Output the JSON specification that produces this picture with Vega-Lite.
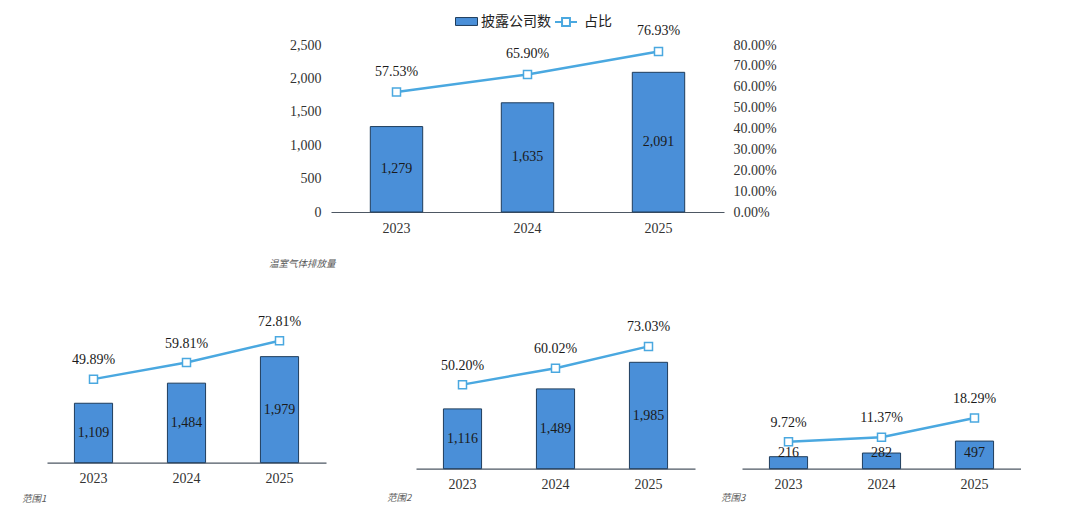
{
  "$schema": "https://vega.github.io/schema/vega-lite/v6.json",
  "background": "white",
  "padding": {"left": 22, "top": 10, "right": 0, "bottom": 0},
  "config": {
    "view": {"stroke": null},
    "axis": {"labelFont": "Liberation Serif", "labelFontSize": 14, "labelColor": "#333333", "ticks": false, "grid": false, "domain": false, "title": null},
    "text": {"font": "Liberation Serif", "fontSize": 14, "fill": "#1a1a1a"},
    "title": {"font": "Noto Sans CJK SC", "fontSize": 9.5, "fontStyle": "italic", "fontWeight": "normal", "color": "#595959", "frame": "group"},
    "legend": {"labelFont": "Noto Sans CJK SC", "labelFontSize": 14, "labelColor": "#222222", "padding": 0}
  },
  "datasets": {
    "top": [
      {"year": "2023", "count": 1279, "pct": 0.5753},
      {"year": "2024", "count": 1635, "pct": 0.6590},
      {"year": "2025", "count": 2091, "pct": 0.7693}
    ],
    "s1": [
      {"year": "2023", "count": 1109, "pct": 0.4989},
      {"year": "2024", "count": 1484, "pct": 0.5981},
      {"year": "2025", "count": 1979, "pct": 0.7281}
    ],
    "s2": [
      {"year": "2023", "count": 1116, "pct": 0.5020},
      {"year": "2024", "count": 1489, "pct": 0.6002},
      {"year": "2025", "count": 1985, "pct": 0.7303}
    ],
    "s3": [
      {"year": "2023", "count": 216, "pct": 0.0972},
      {"year": "2024", "count": 282, "pct": 0.1137},
      {"year": "2025", "count": 497, "pct": 0.1829}
    ]
  },
  "bounds": "flush",
  "spacing": 283.7,
  "resolve": {"scale": {"fill": "independent", "stroke": "independent"}, "legend": {"fill": "independent", "stroke": "independent"}},
  "vconcat": [
    {
      "bounds": "flush",
      "spacing": 0,
      "resolve": {"scale": {"fill": "independent", "stroke": "independent"}, "legend": {"fill": "independent", "stroke": "independent"}},
      "hconcat": [
        {
          "width": 284,
          "height": 1,
          "data": {"values": [{"a": 1}]},
          "mark": {"type": "text", "text": ""},
          "encoding": {}
        },
        {
          "width": 393,
          "height": 167,
          "data": {"name": "top"},
          "title": {"text": "温室气体排放量", "orient": "bottom", "anchor": "start", "dx": -62, "offset": 23.5},
          "encoding": {
            "x": {"field": "year", "type": "ordinal", "scale": {"paddingInner": 0.6, "paddingOuter": 0.3},
                  "axis": {"domain": true, "domainColor": "#4d5763", "domainWidth": 1.2, "labelPadding": 9, "labelAngle": 0}}
          },
          "layer": [
            {
              "mark": {"type": "bar", "stroke": "#1f3d5c", "strokeWidth": 1},
              "encoding": {
                "y": {"field": "count", "type": "quantitative", "scale": {"domain": [0, 2500], "nice": false},
                      "axis": {"values": [0, 500, 1000, 1500, 2000, 2500], "format": ",.0f", "labelPadding": 10}},
                "fill": {"datum": "披露公司数", "type": "nominal",
                  "scale": {"domain": ["披露公司数"], "range": ["#4a8fd8"]},
                  "legend": {
                    "orient": "none", "legendX": 124, "legendY": -35, "title": null,
                    "symbolType": "M-1,-0.36H1V0.36H-1Z", "symbolSize": 484,
                    "symbolStrokeColor": "#1f3d5c", "symbolStrokeWidth": 1, "symbolOpacity": 1,
                    "labelOffset": 3
                  }
                }
              }
            },
            {
              "mark": {"type": "text"},
              "encoding": {
                "y": {"field": "count", "type": "quantitative", "scale": {"domain": [0, 5000], "nice": false}, "axis": null},
                "text": {"field": "count", "type": "quantitative", "format": ","}
              }
            },
            {
              "encoding": {
                "y": {"field": "pct", "type": "quantitative", "scale": {"domain": [0, 0.8], "nice": false},
                      "axis": {"orient": "right", "values": [0, 0.1, 0.2, 0.3, 0.4, 0.5, 0.6, 0.7, 0.8], "format": ".2%", "labelPadding": 9}}
              },
              "layer": [
                {"mark": {"type": "line", "strokeWidth": 2.5},
                 "encoding": {"stroke": {"datum": "占比", "type": "nominal",
                   "scale": {"domain": ["占比"], "range": ["#4aa8e0"]},
                   "legend": {
                     "orient": "none", "legendX": 223, "legendY": -35, "title": null,
                     "symbolType": "M-1,0H-0.36M0.36,0H1M-0.36,-0.36H0.36V0.36H-0.36Z", "symbolSize": 484,
                     "symbolFillColor": "#ffffff", "symbolStrokeWidth": 2, "symbolOpacity": 1,
                     "labelOffset": 6
                   }}}},
                {"mark": {"type": "point", "shape": "square", "size": 64, "filled": true, "fill": "#ffffff", "stroke": "#4aa8e0", "strokeWidth": 1.5, "opacity": 1}},
                {"mark": {"type": "text", "dy": -20}, "encoding": {"text": {"field": "pct", "type": "quantitative", "format": ".2%"}}}
              ]
            }
          ],
          "resolve": {"scale": {"y": "independent"}}
        }
      ]
    },
    {
      "bounds": "flush",
      "spacing": 90,
      "hconcat": [
        {
          "width": 279,
          "height": 134,
          "data": {"name": "s1"},
          "title": {"text": "范围1", "orient": "bottom", "anchor": "start", "dx": -25, "offset": 8.5},
          "encoding": {
            "x": {"field": "year", "type": "ordinal", "scale": {"paddingInner": 0.59, "paddingOuter": 0.295},
                  "axis": {"domain": true, "domainColor": "#4d5763", "domainWidth": 1.2, "labelPadding": 9, "labelAngle": 0}}
          },
          "layer": [
            {"mark": {"type": "bar", "fill": "#4a8fd8", "stroke": "#1f3d5c", "strokeWidth": 1},
             "encoding": {"y": {"field": "count", "type": "quantitative", "scale": {"domain": [0, 2500], "nice": false}, "axis": null}}},
            {"mark": {"type": "text"},
             "encoding": {"y": {"field": "count", "type": "quantitative", "scale": {"domain": [0, 5000], "nice": false}, "axis": null},
                          "text": {"field": "count", "type": "quantitative", "format": ","}}},
            {"encoding": {"y": {"field": "pct", "type": "quantitative", "scale": {"domain": [0, 0.8], "nice": false}, "axis": null}},
             "layer": [
               {"mark": {"type": "line", "stroke": "#4aa8e0", "strokeWidth": 2.5}},
               {"mark": {"type": "point", "shape": "square", "size": 64, "filled": true, "fill": "#ffffff", "stroke": "#4aa8e0", "strokeWidth": 1.5, "opacity": 1}},
               {"mark": {"type": "text", "dy": -19}, "encoding": {"text": {"field": "pct", "type": "quantitative", "format": ".2%"}}}
             ]}
          ],
          "resolve": {"scale": {"y": "independent"}}
        },
        {
          "bounds": "flush",
          "spacing": 47,
          "hconcat": [
            {
              "width": 279,
              "height": 140,
              "data": {"name": "s2"},
              "title": {"text": "范围2", "orient": "bottom", "anchor": "start", "dx": -29, "offset": 1.5},
              "encoding": {
                "x": {"field": "year", "type": "ordinal", "scale": {"paddingInner": 0.59, "paddingOuter": 0.295},
                      "axis": {"domain": true, "domainColor": "#4d5763", "domainWidth": 1.2, "labelPadding": 9, "labelAngle": 0}}
              },
              "layer": [
                {"mark": {"type": "bar", "fill": "#4a8fd8", "stroke": "#1f3d5c", "strokeWidth": 1},
                 "encoding": {"y": {"field": "count", "type": "quantitative", "scale": {"domain": [0, 2612], "nice": false}, "axis": null}}},
                {"mark": {"type": "text"},
                 "encoding": {"y": {"field": "count", "type": "quantitative", "scale": {"domain": [0, 5224], "nice": false}, "axis": null},
                              "text": {"field": "count", "type": "quantitative", "format": ","}}},
                {"encoding": {"y": {"field": "pct", "type": "quantitative", "scale": {"domain": [0, 0.836], "nice": false}, "axis": null}},
                 "layer": [
                   {"mark": {"type": "line", "stroke": "#4aa8e0", "strokeWidth": 2.5}},
                   {"mark": {"type": "point", "shape": "square", "size": 64, "filled": true, "fill": "#ffffff", "stroke": "#4aa8e0", "strokeWidth": 1.5, "opacity": 1}},
                   {"mark": {"type": "text", "dy": -19}, "encoding": {"text": {"field": "pct", "type": "quantitative", "format": ".2%"}}}
                 ]}
              ],
              "resolve": {"scale": {"y": "independent"}}
            },
            {
              "width": 279,
              "height": 140,
              "data": {"name": "s3"},
              "title": {"text": "范围3", "orient": "bottom", "anchor": "start", "dx": -21, "offset": 1.5},
              "encoding": {
                "x": {"field": "year", "type": "ordinal", "scale": {"paddingInner": 0.59, "paddingOuter": 0.295},
                      "axis": {"domain": true, "domainColor": "#4d5763", "domainWidth": 1.2, "labelPadding": 9, "labelAngle": 0}}
              },
              "layer": [
                {"mark": {"type": "bar", "fill": "#4a8fd8", "stroke": "#1f3d5c", "strokeWidth": 1},
                 "encoding": {"y": {"field": "count", "type": "quantitative", "scale": {"domain": [0, 2520], "nice": false}, "axis": null}}},
                {"mark": {"type": "text", "dy": -15.5},
                 "encoding": {"y": {"datum": 0, "type": "quantitative", "scale": {"domain": [0, 2520], "nice": false}, "axis": null},
                              "text": {"field": "count", "type": "quantitative", "format": ","}}},
                {"encoding": {"y": {"field": "pct", "type": "quantitative", "scale": {"domain": [0, 0.505], "nice": false}, "axis": null}},
                 "layer": [
                   {"mark": {"type": "line", "stroke": "#4aa8e0", "strokeWidth": 2.5}},
                   {"mark": {"type": "point", "shape": "square", "size": 64, "filled": true, "fill": "#ffffff", "stroke": "#4aa8e0", "strokeWidth": 1.5, "opacity": 1}},
                   {"mark": {"type": "text", "dy": -19}, "encoding": {"text": {"field": "pct", "type": "quantitative", "format": ".2%"}}}
                 ]}
              ],
              "resolve": {"scale": {"y": "independent"}}
            }
          ]
        }
      ]
    }
  ]
}
